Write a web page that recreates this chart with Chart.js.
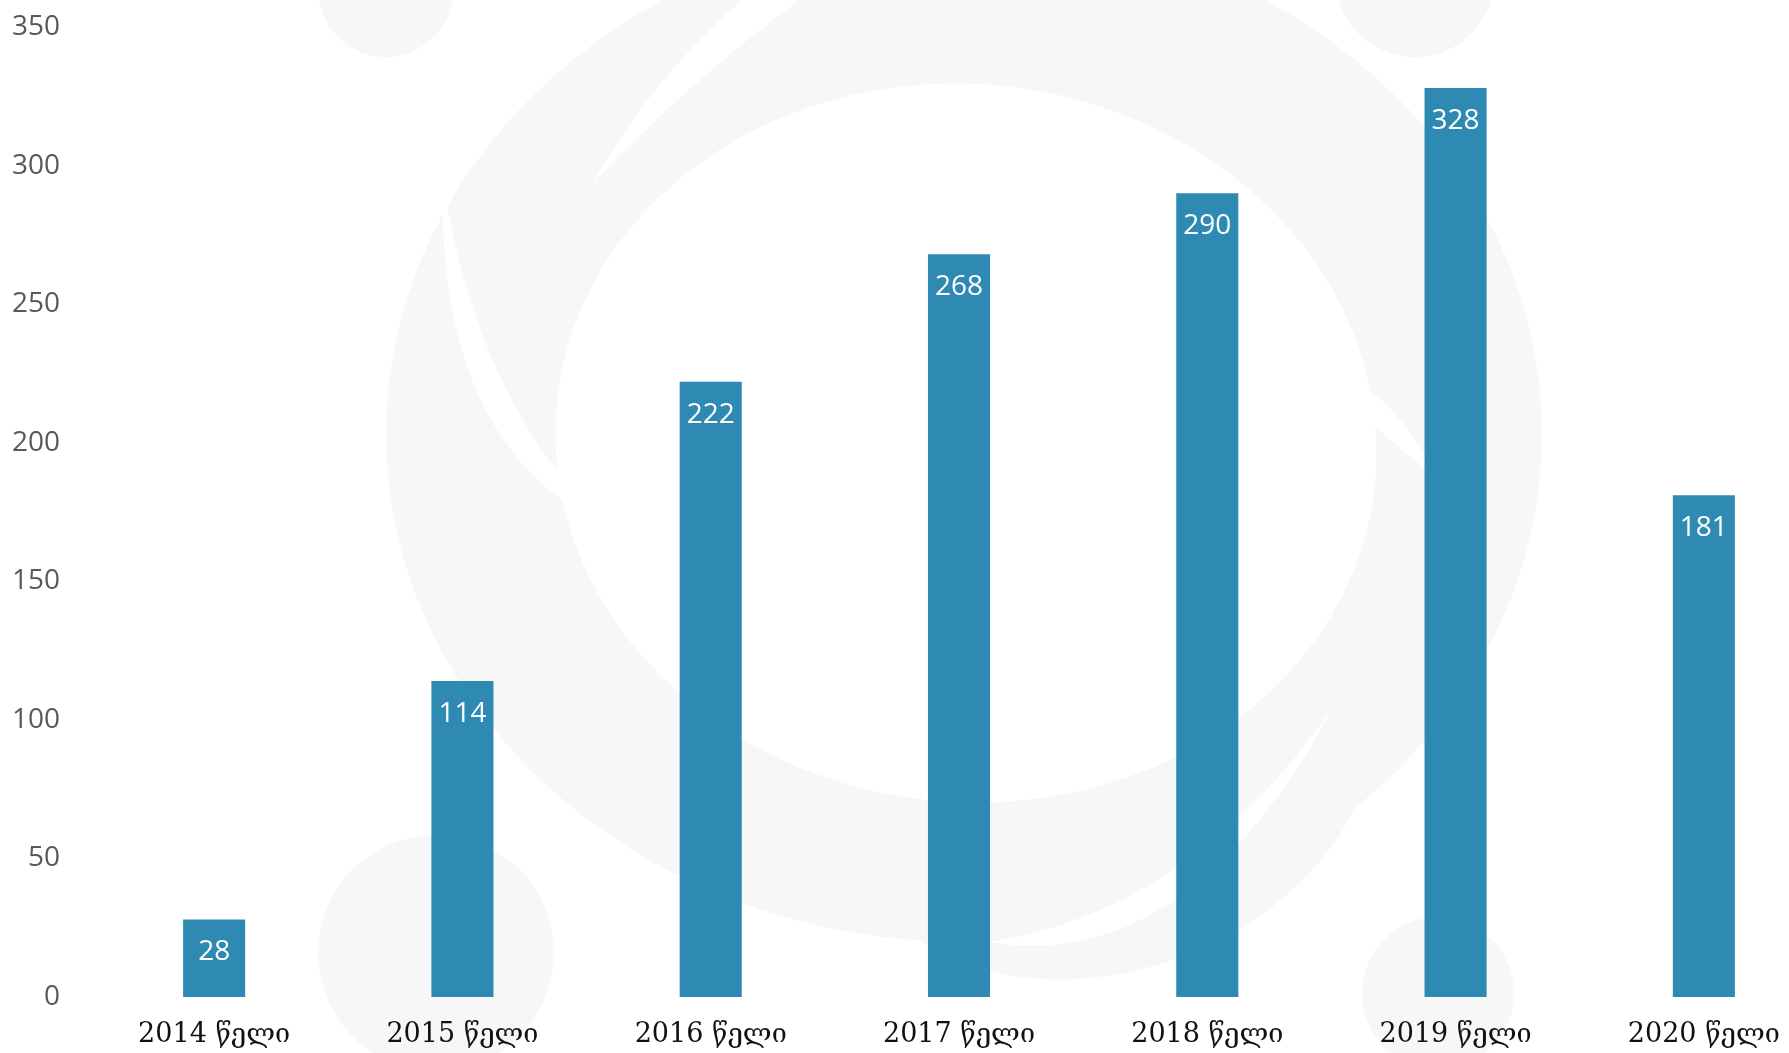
<!DOCTYPE html>
<html>
<head>
<meta charset="utf-8">
<script src="https://cdn.jsdelivr.net/npm/chart.js@4"></script>
<style>
  html, body { margin: 0; padding: 0; background: #fff; overflow: hidden; }
  #wrap { width: 1828px; height: 1053px; }
</style>
</head>
<body>
<div id="wrap"><canvas id="chart" width="1828" height="1053"></canvas></div>
<script>
const years = ['2014 წელი', '2015 წელი', '2016 წელი', '2017 წელი', '2018 წელი', '2019 წელი', '2020 წელი'];
const counts = [28, 114, 222, 268, 290, 328, 181];
const yTicks = [0, 50, 100, 150, 200, 250, 300, 350];

// a tapered white sliver between two quadratic curves
function sliver(c, a, b, c1, c2) {
    c.beginPath();
    c.moveTo(a[0], a[1]);
    c.quadraticCurveTo(c1[0], c1[1], b[0], b[1]);
    c.quadraticCurveTo(c2[0], c2[1], a[0], a[1]);
    c.closePath();
    c.fill();
}

// faint logo watermark behind the chart
const watermark = {
    id: 'watermark',
    beforeDraw(chart) {
        const c = chart.ctx;
        c.save();
        c.fillStyle = '#f7f7f7';
        c.beginPath();
        c.ellipse(964, 434, 578, 508, 0, 0, Math.PI * 2);
        c.fill();
        c.beginPath();
        c.ellipse(1110, 770, 270, 200, -0.35, 0, Math.PI * 2);
        c.fill();
        c.fillStyle = '#ffffff';
        c.beginPath();
        c.ellipse(966, 443, 411, 359, 0.1, 0, Math.PI * 2);
        c.fill();
        // white gaps of the swirl
        sliver(c, [443, 180], [612, 529], [436, 450], [478, 410]);
        sliver(c, [1317, 362], [1440, 480], [1390, 385], [1360, 420]);
        sliver(c, [1335, 704], [989, 942], [1190, 975], [1195, 910]);
        c.beginPath();
        c.moveTo(592, 184);
        c.quadraticCurveTo(650, 80, 742, 0);
        c.lineTo(800, 0);
        c.quadraticCurveTo(690, 80, 592, 184);
        c.fill();
        c.fillStyle = '#f7f7f7';
        [[386, -11, 68], [1415, -23, 80], [436, 953, 118], [1438, 993, 76]].forEach(p => {
            c.beginPath();
            c.arc(p[0], p[1], p[2], 0, Math.PI * 2);
            c.fill();
        });
        c.restore();
    }
};

// white value labels inside the top of each bar
const barValues = {
    id: 'barValues',
    afterDatasetsDraw(chart) {
        const c = chart.ctx;
        const meta = chart.getDatasetMeta(0);
        c.save();
        c.fillStyle = '#ffffff';
        c.font = '28px "Open Sans"';
        c.textAlign = 'center';
        c.textBaseline = 'middle';
        meta.data.forEach((bar, i) => {
            c.fillText(String(counts[i]), bar.x, bar.y + 33);
        });
        c.restore();
    }
};

new Chart(document.getElementById('chart'), {
    type: 'bar',
    data: {
        labels: years,
        datasets: [{
            data: counts,
            backgroundColor: '#2e89b3',
            borderWidth: 0,
            barPercentage: 0.25,
            categoryPercentage: 1
        }]
    },
    options: {
        responsive: false,
        animation: false,
        layout: { padding: { top: 27, left: 0, right: 0, bottom: 0 } },
        plugins: { legend: { display: false }, tooltip: { enabled: false } },
        scales: {
            x: {
                grid: { display: false },
                border: { display: false },
                ticks: {
                    color: '#111',
                    font: { family: '"DejaVu Serif", serif', size: 27 },
                    padding: 14,
                    maxRotation: 0,
                    autoSkip: false
                },
                afterFit(scale) {
                    scale.height = 56;
                    scale.paddingLeft = 0;
                    scale.paddingRight = 0;
                }
            },
            y: {
                min: 0,
                max: 350,
                grid: { display: false },
                border: { display: false },
                afterBuildTicks(scale) {
                    scale.ticks = yTicks.map(v => ({ value: v }));
                },
                ticks: {
                    color: '#595959',
                    font: { family: '"Open Sans"', size: 28 },
                    padding: 22
                },
                afterFit(scale) {
                    scale.width = 90;
                    scale.paddingTop = 0;
                    scale.paddingBottom = 0;
                }
            }
        }
    },
    plugins: [watermark, barValues]
});
</script>
</body>
</html>
